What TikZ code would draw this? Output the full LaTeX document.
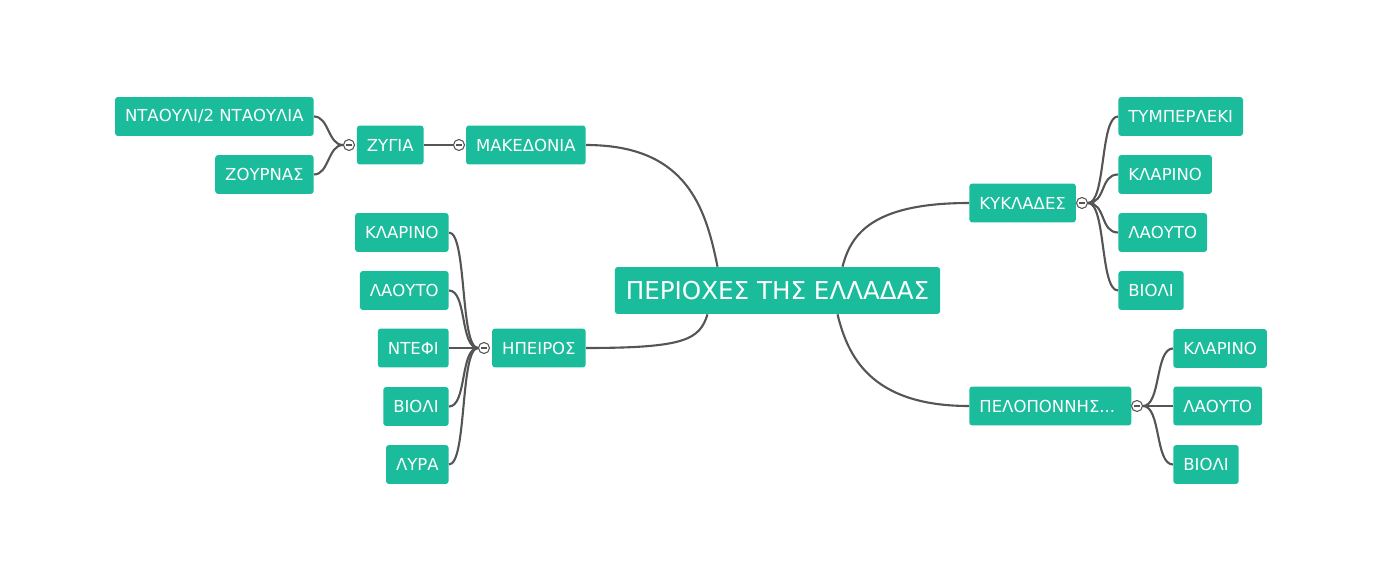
\documentclass[tikz,border=0pt]{standalone}
\usepackage{fontspec}
\setmainfont{DejaVu Sans}
\usetikzlibrary{calc}
\definecolor{mapgreen}{HTML}{1ABC9C}
\definecolor{mapline}{HTML}{555555}

\begin{document}
\begin{tikzpicture}[x=0.02cm, y=-0.02cm,
    topic/.style={fill=mapgreen, text=white, rounded corners=0.06cm,
      minimum height=0.78cm, inner xsep=0.2cm,
      font=\fontsize{9.4}{11}\selectfont},
    root/.style={topic, minimum height=0.94cm, inner xsep=0.22cm,
      font=\fontsize{14}{16}\selectfont},
    fold/.style={circle, draw=mapline, fill=white, line width=0.6pt,
      minimum size=0.22cm, inner sep=0pt, text=mapline},
    link/.style={draw=mapline, line width=1.2pt}]
  \useasboundingbox (0,0) rectangle (1380,581);

  %%%%% central topic %%%%%
  \node[root] (root) at (777.5,290.5) {ΠΕΡΙΟΧΕΣ ΤΗΣ ΕΛΛΑΔΑΣ};

  %%%%% left side %%%%%
  \node[topic, anchor=east] (maked) at (586,145) {ΜΑΚΕΔΟΝΙΑ};
  \node[fold] (makedfold) at (459,145) {\rule{0.11cm}{0.045cm}};
  \node[topic, anchor=east] (zygia) at (424,145) {ΖΥΓΙΑ};
  \node[fold] (zygiafold) at (349,145) {\rule{0.11cm}{0.045cm}};
  \node[topic, anchor=east] (ntaouli) at (314,116.5) {ΝΤΑΟΥΛΙ/2 ΝΤΑΟΥΛΙΑ};
  \node[topic, anchor=east] (zournas) at (314,174.5) {ΖΟΥΡΝΑΣ};

  \node[topic, anchor=east] (ipeiros) at (586,348) {ΗΠΕΙΡΟΣ};
  \node[fold] (ipeirosfold) at (484,348) {\rule{0.11cm}{0.045cm}};
  \node[topic, anchor=east] (ipklarino) at (449,232.5) {ΚΛΑΡΙΝΟ};
  \node[topic, anchor=east] (iplaouto) at (449,290.5) {ΛΑΟΥΤΟ};
  \node[topic, anchor=east] (ipntefi) at (449,348) {ΝΤΕΦΙ};
  \node[topic, anchor=east] (ipvioli) at (449,406.5) {ΒΙΟΛΙ};
  \node[topic, anchor=east] (iplyra) at (449,464.5) {ΛΥΡΑ};

  %%%%% right side %%%%%
  \node[topic, anchor=west] (kyklades) at (969,203) {ΚΥΚΛΑΔΕΣ};
  \node[fold] (kykladesfold) at (1082,203) {\rule{0.11cm}{0.045cm}};
  \node[topic, anchor=west] (kytymp) at (1118,116.5) {ΤΥΜΠΕΡΛΕΚΙ};
  \node[topic, anchor=west] (kyklarino) at (1118,174.5) {ΚΛΑΡΙΝΟ};
  \node[topic, anchor=west] (kylaouto) at (1118,232.5) {ΛΑΟΥΤΟ};
  \node[topic, anchor=west] (kyvioli) at (1118,290.5) {ΒΙΟΛΙ};

  \node[topic, anchor=west, text width=2.84cm, align=left] (pelop) at (969,406) {ΠΕΛΟΠΟΝΝΗΣ...};
  \node[fold] (pelopfold) at (1137,406) {\rule{0.11cm}{0.045cm}};
  \node[topic, anchor=west] (peklarino) at (1173,348.5) {ΚΛΑΡΙΝΟ};
  \node[topic, anchor=west] (pelaouto) at (1173,406) {ΛΑΟΥΤΟ};
  \node[topic, anchor=west] (pevioli) at (1173,464.5) {ΒΙΟΛΙ};

  %%%%% connectors from the central topic %%%%%
  \draw[link] (maked.east) .. controls +(100,0) and +(-12,-60) .. ($(root.north)+(-60,0)$);
  \draw[link] (ipeiros.east) .. controls +(100,0) and +(-8,25) .. ($(root.south)+(-70,0)$);
  \draw[link] (kyklades.west) .. controls +(-100,0) and +(8,-30) .. ($(root.north)+(65,0)$);
  \draw[link] (pelop.west) .. controls +(-100,0) and +(10,40) .. ($(root.south)+(60,0)$);

  %%%%% branches %%%%%
  \draw[link] (zygia.east) -- (makedfold.west);
  \draw[link] (zygiafold.west) .. controls +(-15,0) and +(15,0) .. (ntaouli.east);
  \draw[link] (zygiafold.west) .. controls +(-15,0) and +(15,0) .. (zournas.east);

  \foreach \leaf in {ipklarino,iplaouto,ipntefi,ipvioli,iplyra}
    \draw[link] (ipeirosfold.west) .. controls +(-18,0) and +(18,0) .. (\leaf.east);
  \foreach \leaf in {kytymp,kyklarino,kylaouto,kyvioli}
    \draw[link] (kykladesfold.east) .. controls +(18,0) and +(-18,0) .. (\leaf.west);
  \foreach \leaf in {peklarino,pelaouto,pevioli}
    \draw[link] (pelopfold.east) .. controls +(18,0) and +(-18,0) .. (\leaf.west);
\end{tikzpicture}
\end{document}
